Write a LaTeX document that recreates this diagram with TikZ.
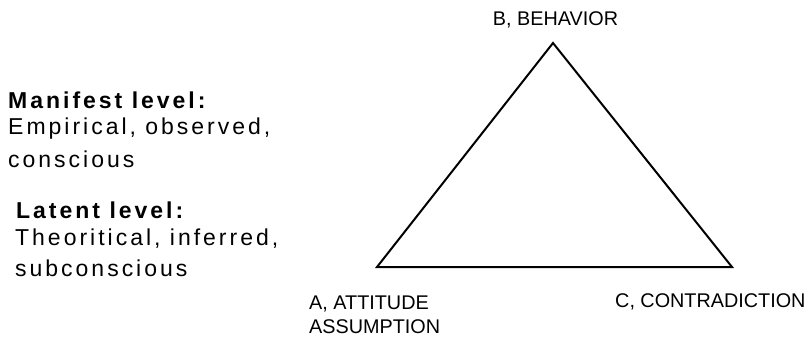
\documentclass[tikz,border=0pt]{standalone}
\usepackage{fontspec}
\setmainfont{Liberation Sans}
\newfontfamily\spacedfont[LetterSpace=13]{Liberation Sans}
\usetikzlibrary{positioning}

\begin{document}
\begin{tikzpicture}[x=1pt, y=-1pt,
  corner/.style={font=\fontsize{19.8}{24}\selectfont, inner sep=0pt, anchor=base west},
  levelhead/.style={font=\fontsize{23}{27}\selectfont\spacedfont\bfseries, inner sep=0pt, anchor=base west},
  leveltext/.style={font=\fontsize{23}{27}\selectfont\spacedfont, inner sep=0pt, anchor=base west},
  side/.style={line width=2pt, line join=miter}
]
\useasboundingbox (0,0) rectangle (809,337);

% Corners of the triangle
\coordinate (A) at (377,267);
\coordinate (B) at (553,43);
\coordinate (C) at (732,267);
\draw[side] (A) -- (B) -- (C) -- cycle;

% Corner labels
\node[corner, anchor=base] (labB) at (555.5,26) {B, BEHAVIOR};
\node[corner] (labA1) at (309,309) {A, ATTITUDE};
\node[corner] (labA2) at (309,333) {ASSUMPTION};
\node[corner] (labC) at (615,307) {C, CONTRADICTION};

% Levels
\node[levelhead] (manifest) at (8,108) {Manifest level:};
\node[leveltext] (manifest1) at (8,135) {Empirical, observed,};
\node[leveltext] (manifest2) at (8,167) {conscious};

\node[levelhead] (latent) at (16,218) {Latent level:};
\node[leveltext] (latent1) at (15,245) {Theoritical, inferred,};
\node[leveltext] (latent2) at (15,276) {subconscious};

\end{tikzpicture}
\end{document}
